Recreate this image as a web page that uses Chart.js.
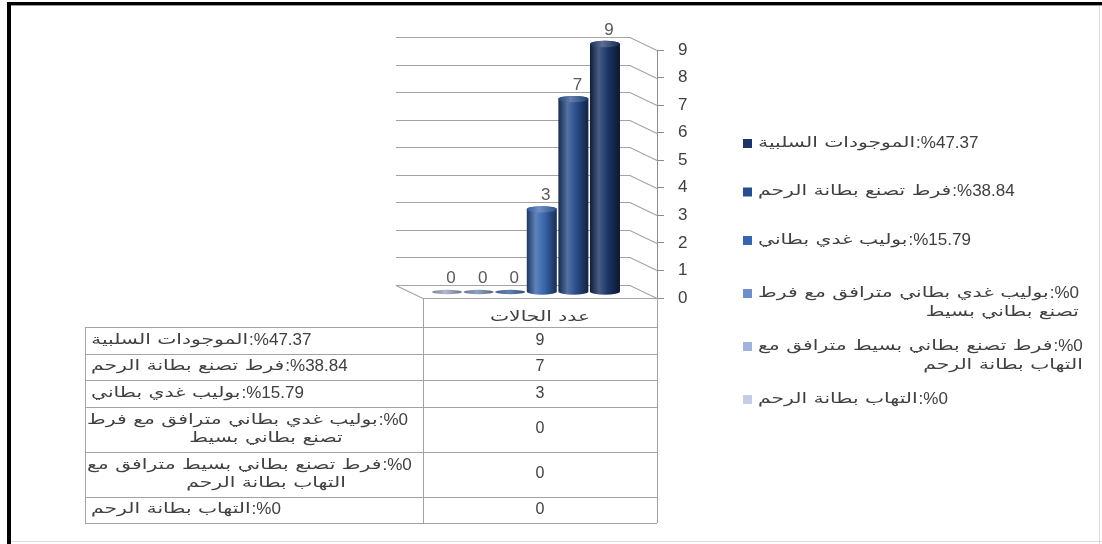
<!DOCTYPE html>
<html lang="ar">
<head>
<meta charset="utf-8">
<script src="https://cdn.jsdelivr.net/npm/chart.js@4.4.1/dist/chart.umd.min.js"></script>
<style>
  html, body { margin: 0; padding: 0; background: #fff; }
  canvas { display: block; }
</style>
</head>
<body>
<canvas id="chart" width="1102" height="544"></canvas>
<script>
// ---- data ----
const categories = ['عدد الحالات'];
const seriesNames = [
  'الموجودات السلبية',
  'فرط تصنع بطانة الرحم',
  'بوليب غدي بطاني',
  'بوليب غدي بطاني مترافق مع فرط تصنع بطاني بسيط',
  'فرط تصنع بطاني بسيط مترافق مع التهاب بطانة الرحم',
  'التهاب بطانة الرحم'
];
const seriesPercents = ['%47.37', '%38.84', '%15.79', '%0', '%0', '%0'];
const caseCounts = [9, 7, 3, 0, 0, 0];
const yTicks = [0, 1, 2, 3, 4, 5, 6, 7, 8, 9];

// ---- styles ----
const seriesColors = ['#1c3566', '#294d8c', '#3764ab', '#6f8fc8', '#a0b4da', '#c6cce6'];
const TEXT = '#404040';
const LINE = '#a3a3a3';
const LATIN = '"Liberation Sans", Arial, sans-serif';
const ARABIC = '"DejaVu Sans", "Liberation Sans", sans-serif';
const AR_SIZE = 14, AR_STRETCH = 1.45, NUM_SIZE = 17;
const WALL = { dx: 27, dy: 13 };      // back wall offset behind the front plane
const SHIFT = { dx: -14, dy: -6 };    // column row sits mid-depth

// columns go left to right from the smallest series to the largest
const drawOrder = seriesNames.map((_, i) => i).reverse();

function shade(hex, amt) {
  const n = parseInt(hex.slice(1), 16);
  const c = [n >> 16, (n >> 8) & 255, n & 255];
  const t = amt < 0 ? 0 : 255, p = Math.abs(amt);
  const m = c.map(v => Math.round(v + (t - v) * p));
  return `rgb(${m[0]},${m[1]},${m[2]})`;
}

function drawCylinder(ctx, x, w, top, base, color) {
  const rx = w / 2, cx = x + rx;
  if (top >= base - 0.5) {
    // zero height: only a flat disc lies on the floor
    ctx.beginPath();
    ctx.ellipse(cx, base, rx, 2.2, 0, 0, Math.PI * 2);
    const dg = ctx.createLinearGradient(x, 0, x + w, 0);
    dg.addColorStop(0, shade(color, -0.35));
    dg.addColorStop(0.45, shade(color, -0.1));
    dg.addColorStop(1, shade(color, -0.45));
    ctx.fillStyle = dg;
    ctx.fill();
    return;
  }
  const ry = 3.2;
  const g = ctx.createLinearGradient(x, 0, x + w, 0);
  g.addColorStop(0, shade(color, -0.45));
  g.addColorStop(0.3, shade(color, 0.2));
  g.addColorStop(0.6, color);
  g.addColorStop(1, shade(color, -0.55));
  ctx.beginPath();
  ctx.moveTo(x, top);
  ctx.lineTo(x, base);
  ctx.ellipse(cx, base, rx, ry, 0, Math.PI, 0, true);
  ctx.lineTo(x + w, top);
  ctx.ellipse(cx, top, rx, ry, 0, 0, Math.PI, true);
  ctx.closePath();
  ctx.fillStyle = g;
  ctx.fill();
  const tg = ctx.createLinearGradient(x, 0, x + w, 0);
  tg.addColorStop(0, shade(color, -0.1));
  tg.addColorStop(0.4, shade(color, 0.28));
  tg.addColorStop(1, shade(color, -0.2));
  ctx.beginPath();
  ctx.ellipse(cx, top, rx, ry, 0, 0, Math.PI * 2);
  ctx.fillStyle = tg;
  ctx.fill();
}

function arabicWidth(ctx, text) {
  ctx.font = AR_SIZE + 'px ' + ARABIC;
  return ctx.measureText(text).width * AR_STRETCH;
}

// split a label into lines: Arabic words first, then ":" and the percentage
function wrapLabel(ctx, name, pct, maxW) {
  ctx.font = NUM_SIZE + 'px ' + LATIN;
  const tail = ':' + pct;
  const tailW = ctx.measureText(tail).width;
  const words = name.split(' ');
  const first = [];
  let i = 0;
  while (i < words.length) {
    const trial = first.concat(words[i]).join(' ');
    if (first.length && arabicWidth(ctx, trial) + tailW > maxW) break;
    first.push(words[i]);
    i++;
  }
  return { first: first.join(' '), rest: words.slice(i).join(' '), tail, tailW };
}

function drawArabic(ctx, text, x, y, align) {
  const w = arabicWidth(ctx, text);
  const x0 = align === 'left' ? x : align === 'right' ? x - w : x - w / 2;
  ctx.save();
  ctx.translate(x0, y);
  ctx.scale(AR_STRETCH, 1);
  ctx.textBaseline = 'middle';
  ctx.fillStyle = TEXT;
  ctx.font = AR_SIZE + 'px ' + ARABIC;
  ctx.direction = 'rtl';
  ctx.textAlign = 'left';
  ctx.fillText(text, 0, 0);
  ctx.restore();
  return w;
}

// draws "[arabic]:%nn" with the left end at x; returns total width
function drawLine1(ctx, lab, x, y) {
  const aw = drawArabic(ctx, lab.first, x, y, 'left');
  ctx.save();
  ctx.direction = 'ltr';
  ctx.fillStyle = TEXT;
  ctx.font = NUM_SIZE + 'px ' + LATIN;
  ctx.textAlign = 'left';
  ctx.textBaseline = 'middle';
  ctx.fillText(lab.tail, x + aw + 1, y);
  ctx.restore();
  return aw + 1 + lab.tailW;
}

const scene3d = {
  id: 'scene3d',
  beforeDraw(chart) {
    const { ctx, width, height } = chart;
    ctx.save();
    ctx.fillStyle = '#fff';
    ctx.fillRect(0, 0, width, height);
    // picture frame
    ctx.fillStyle = '#000';
    ctx.fillRect(7, 2, width - 7, 3);
    ctx.fillRect(7, 2, 4, height - 2);
    ctx.fillStyle = '#9a9a9a';
    ctx.fillRect(11, 5, width - 11, 1);
    ctx.fillStyle = '#dcdcdc';
    ctx.fillRect(width - 3, 6, 1, height - 6);
    ctx.fillRect(11, height - 3, width - 11, 1);
    ctx.restore();
  },
  beforeDatasetsDraw(chart) {
    const { ctx, chartArea: a, scales: { y } } = chart;
    ctx.save();
    ctx.strokeStyle = LINE;
    ctx.lineWidth = 1.2;
    y.ticks.forEach(t => {
      const py = Math.round(y.getPixelForValue(t.value)) + 0.5;
      ctx.beginPath();
      ctx.moveTo(a.left - WALL.dx, py - WALL.dy);
      ctx.lineTo(a.right - WALL.dx, py - WALL.dy);
      ctx.lineTo(a.right, py);
      ctx.stroke();
    });
    const fy = Math.round(y.getPixelForValue(0)) + 0.5;
    ctx.beginPath();
    ctx.moveTo(a.left - WALL.dx, fy - WALL.dy);
    ctx.lineTo(a.left, fy);
    ctx.lineTo(a.right, fy);
    ctx.stroke();
    ctx.restore();
  },
  beforeDatasetDraw() {
    return false;
  },
  afterDatasetsDraw(chart) {
    const { ctx } = chart;
    ctx.save();
    ctx.translate(SHIFT.dx, SHIFT.dy);
    chart.data.datasets.forEach((ds, di) => {
      const meta = chart.getDatasetMeta(di);
      meta.data.forEach((bar, j) => {
        const p = bar.getProps(['x', 'y', 'base', 'width'], true);
        drawCylinder(ctx, p.x - p.width / 2, p.width, p.y, p.base, ds.backgroundColor);
        ctx.fillStyle = '#595959';
        ctx.font = '17px ' + LATIN;
        ctx.textAlign = 'center';
        ctx.textBaseline = 'middle';
        ctx.fillText(String(ds.data[j]), p.x + 4, p.y - 14);
      });
    });
    ctx.restore();
  },
  afterDraw(chart) {
    const { ctx, chartArea: a, scales: { y } } = chart;
    ctx.save();

    // ---- legend: single-line entries ~50px apart, wrapped ones take a little more ----
    const lx = 743, textX = 758;
    let cy = 143;
    seriesNames.forEach((name, i) => {
      const lab = wrapLabel(ctx, name, seriesPercents[i], 345);
      ctx.fillStyle = seriesColors[i];
      ctx.fillRect(lx, cy - 4, 9, 9);
      const w = drawLine1(ctx, lab, textX, cy);
      if (lab.rest) drawArabic(ctx, lab.rest, textX + w, cy + 19, 'right');
      const next = seriesNames[i + 1] !== undefined ? wrapLabel(ctx, seriesNames[i + 1], seriesPercents[i + 1], 345) : null;
      cy += (lab.rest || (next && next.rest)) ? 53 : 48.5;
    });

    // ---- data table ----
    const left = 85, mid = a.left, right = a.right;
    const headTop = Math.round(y.getPixelForValue(0));
    const top = headTop + 29;
    ctx.strokeStyle = LINE;
    ctx.lineWidth = 1;
    const rows = seriesNames.map((name, i) => {
      const lab = wrapLabel(ctx, name, seriesPercents[i], 338);
      return { lab, h: lab.rest ? 45 : 26.5 };
    });
    const bottom = top + rows.reduce((s, r) => s + r.h, 0);
    const hl = v => Math.round(v) + 0.5;
    ctx.beginPath();
    ctx.moveTo(hl(mid), headTop); ctx.lineTo(hl(mid), bottom);
    ctx.moveTo(hl(right), headTop); ctx.lineTo(hl(right), bottom);
    ctx.moveTo(hl(left), top); ctx.lineTo(hl(left), bottom);
    let ry = top;
    ctx.moveTo(left, hl(ry)); ctx.lineTo(right, hl(ry));
    rows.forEach(r => { ry += r.h; ctx.moveTo(left, hl(ry)); ctx.lineTo(right, hl(ry)); });
    ctx.stroke();

    drawArabic(ctx, categories[0], (mid + right) / 2, headTop + 19, 'center');

    ry = top;
    rows.forEach((r, i) => {
      const rc = ry + r.h / 2;
      if (r.lab.rest) {
        drawLine1(ctx, r.lab, left + 2, rc - 9);
        drawArabic(ctx, r.lab.rest, left + 181, rc + 9, 'center');
      } else {
        drawLine1(ctx, r.lab, left + 6, rc);
      }
      ctx.fillStyle = TEXT;
      ctx.font = '16px ' + LATIN;
      ctx.textAlign = 'center';
      ctx.textBaseline = 'middle';
      ctx.fillText(String(caseCounts[i]), (mid + right) / 2, rc);
      ry += r.h;
    });
    ctx.restore();
  }
};

new Chart(document.getElementById('chart'), {
  type: 'bar',
  data: {
    labels: categories,
    datasets: drawOrder.map(i => ({
      label: seriesPercents[i] + ':' + seriesNames[i],
      data: [caseCounts[i]],
      backgroundColor: seriesColors[i]
    }))
  },
  options: {
    responsive: false,
    animation: false,
    devicePixelRatio: 1,
    layout: { padding: { left: 423, right: 385, top: 50, bottom: 246 } },
    datasets: { bar: { categoryPercentage: 0.81, barPercentage: 0.95 } },
    plugins: { legend: { display: false }, tooltip: { enabled: false } },
    scales: {
      x: { display: false },
      y: {
        position: 'right',
        min: 0,
        max: 9,
        afterBuildTicks: s => { s.ticks = yTicks.map(v => ({ value: v })); },
        afterFit: s => { s.width = 60; },
        grid: { drawOnChartArea: false, drawTicks: true, tickLength: 7, color: '#8c8c8c' },
        border: { display: true, color: '#8c8c8c' },
        ticks: { padding: 14, color: TEXT, font: { family: LATIN, size: 17 } }
      }
    }
  },
  plugins: [scene3d]
});
</script>
</body>
</html>
